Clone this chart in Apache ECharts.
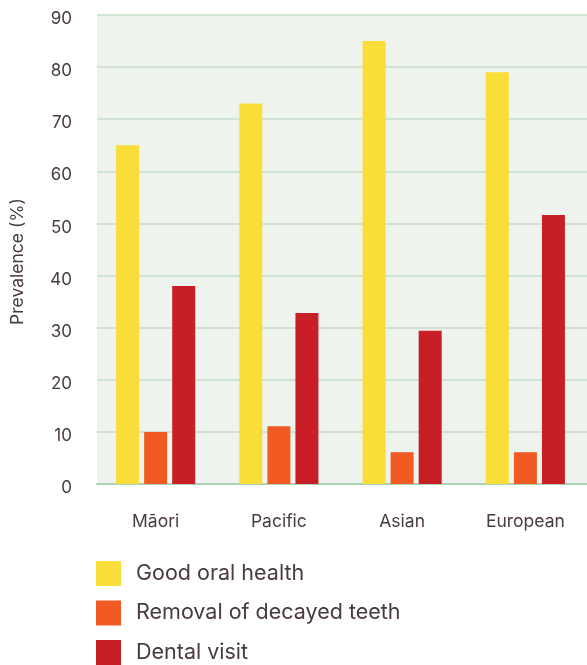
<!DOCTYPE html>
<html>
<head>
<meta charset="utf-8">
<script src="https://cdn.jsdelivr.net/npm/echarts@6/dist/echarts.min.js"></script>
<style>
  html, body { margin: 0; padding: 0; background: #ffffff; }
  #chart { width: 587px; height: 665px; }
</style>
</head>
<body>
<div id="chart"></div>
<script>
// Oral health indicators by ethnic group (prevalence, %)
const categories = ['Māori', 'Pacific', 'Asian', 'European'];
const seriesNames = ['Good oral health', 'Removal of decayed teeth', 'Dental visit'];
const goodOralHealth = [65, 73, 85, 79];
const removalOfDecayedTeeth = [10, 11.1, 6.1, 6.1];
const dentalVisit = [38, 32.8, 29.4, 51.6];
const yTicks = { min: 0, max: 90, interval: 10 };

const colors = ['#FBDD3A', '#F15A22', '#C81F26'];
const textColor = '#4A3A42';
const fontFamily = 'Inter, "Noto Sans", sans-serif';

const chart = echarts.init(document.getElementById('chart'), null, { renderer: 'canvas' });

const seriesData = [goodOralHealth, removalOfDecayedTeeth, dentalVisit];

chart.setOption({
  backgroundColor: '#ffffff',
  animation: false,
  color: colors,
  textStyle: { fontFamily: fontFamily, color: textColor },
  grid: [
    // panel: background, gridlines and baseline
    { left: 97, right: 0, top: 15, bottom: 181, show: true, backgroundColor: '#EEF3EE', borderWidth: 0 },
    // bar groups, laid out on slightly wider category bands
    { left: 94, right: -4, top: 15, bottom: 181 }
  ],
  legend: {
    orient: 'vertical',
    left: 96,
    top: 561,
    padding: 0,
    itemWidth: 25,
    itemHeight: 25,
    itemGap: 14.5,
    icon: 'rect',
    data: seriesNames,
    textStyle: { fontFamily: fontFamily, fontSize: 21.5, color: textColor, padding: [3, 0, 0, 10] }
  },
  xAxis: [
    {
      gridIndex: 0,
      type: 'value',
      min: 0, max: 1,
      axisLine: { show: true, onZero: false, lineStyle: { color: '#A9D5B6', width: 2 } },
      axisTick: { show: false },
      axisLabel: { show: false },
      splitLine: { show: false }
    },
    {
      gridIndex: 1,
      type: 'category',
      data: categories,
      axisLine: { show: false },
      axisTick: { show: false },
      axisLabel: { fontFamily: fontFamily, fontSize: 17.5, color: textColor, margin: 29 }
    }
  ],
  yAxis: [
    {
      gridIndex: 0,
      type: 'value',
      min: yTicks.min,
      max: yTicks.max,
      interval: yTicks.interval,
      name: 'Prevalence (%)',
      nameLocation: 'middle',
      nameGap: 70,
      nameTextStyle: { fontFamily: fontFamily, fontSize: 17.5, color: textColor, padding: [0, 24, 0, 0] },
      axisLine: { show: false },
      axisTick: { show: false },
      splitLine: { show: true, lineStyle: { color: '#C6DDC9', width: 1.5 } },
      axisLabel: {
        margin: 25,
        formatter: '{v|{value}}',
        rich: { v: { fontFamily: fontFamily, fontSize: 17, color: textColor, padding: [8, 0, 0, 0] } }
      }
    },
    {
      gridIndex: 1,
      type: 'value',
      min: yTicks.min,
      max: yTicks.max,
      interval: yTicks.interval,
      show: false,
      splitLine: { show: false }
    }
  ],
  series: seriesNames.map((name, i) => ({
    name: name,
    type: 'bar',
    xAxisIndex: 1,
    yAxisIndex: 1,
    data: seriesData[i],
    barWidth: 23,
    barGap: '22%',
    itemStyle: { color: colors[i] }
  }))
});
</script>
</body>
</html>
